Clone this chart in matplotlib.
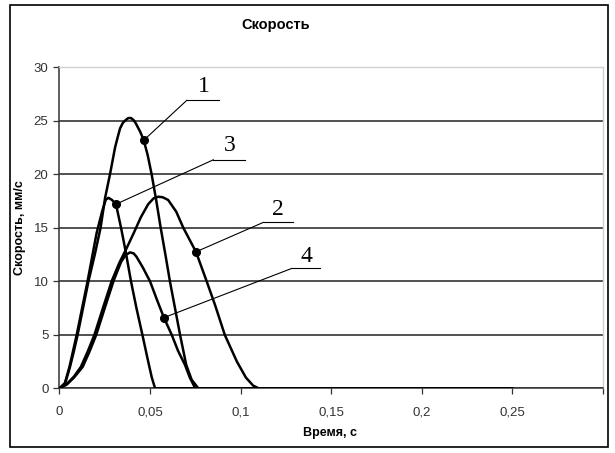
import matplotlib
matplotlib.use("Agg")
import matplotlib.pyplot as plt
from matplotlib.patches import Rectangle
from matplotlib.ticker import FuncFormatter

# Curve data (time, s ; velocity, mm/s)
t1 = [0, 0.003, 0.0058, 0.008, 0.010, 0.013, 0.016, 0.0195, 0.0227, 0.0252, 0.0279, 0.0307,
      0.0322, 0.0335, 0.035, 0.0365, 0.038, 0.0395, 0.041, 0.042, 0.0445, 0.0465, 0.0487,
      0.0509, 0.0535, 0.0559, 0.0585, 0.061, 0.0638, 0.0666, 0.070, 0.073, 0.0767, 0.25]
v1 = [0, 0.4, 2, 3.5, 5, 7.5, 10, 12.5, 15, 17.8, 20, 22.5,
      23.5, 24.3, 24.8, 25.05, 25.25, 25.25, 25.05, 24.8, 24.0, 23.2, 21.8,
      20, 17.5, 15, 12.5, 10, 7.5, 5, 2.2, 0.8, 0, 0]

t2 = [0, 0.004, 0.008, 0.0118, 0.0155, 0.0193, 0.024, 0.0288, 0.033, 0.0371, 0.041, 0.045,
      0.049, 0.052, 0.0546, 0.057, 0.060, 0.0645, 0.0684, 0.0754, 0.0813, 0.0859, 0.0913,
      0.098, 0.103, 0.107, 0.110, 0.25]
v2 = [0, 0.4, 1.1, 2, 3.4, 5, 7.5, 10, 11.7, 13.1, 14.5, 16.0,
      17.2, 17.75, 17.9, 17.85, 17.6, 16.5, 15, 12.75, 10, 7.8, 5,
      2.5, 1.0, 0.25, 0, 0]

t3 = [0, 0.003, 0.0055, 0.0095, 0.0125, 0.0155, 0.0205, 0.0235, 0.0255, 0.027, 0.029, 0.0312,
      0.034, 0.0362, 0.0395, 0.0425, 0.0458, 0.049, 0.051, 0.0528, 0.25]
v3 = [0, 0.5, 2, 5, 7.5, 10, 14.5, 16.5, 17.6, 17.8, 17.6, 17.2,
      15, 13.1, 10, 7.5, 5, 2.5, 1.0, 0, 0]

t4 = [0, 0.004, 0.008, 0.0128, 0.0165, 0.0203, 0.025, 0.0298, 0.034, 0.0365, 0.039, 0.041,
      0.0425, 0.046, 0.050, 0.054, 0.0577, 0.062, 0.0655, 0.0693, 0.072, 0.075, 0.25]
v4 = [0, 0.35, 1.0, 2, 3.4, 5, 7.5, 10, 11.8, 12.45, 12.7, 12.6,
      12.3, 11.3, 10, 8.2, 6.6, 5, 3.5, 2.2, 1.0, 0, 0]

series = [(t1, v1), (t2, v2), (t3, v3), (t4, v4)]

# callouts: label, marker point on curve, text position, underline (x0, x1, y)
labels = ["1", "2", "3", "4"]
mark_t = [0.0467, 0.0754, 0.0312, 0.0577]
mark_v = [23.2, 12.75, 17.2, 6.6]
text_t = [0.0795, 0.1209, 0.0942, 0.1366]
text_v = [28.2, 16.7, 22.7, 12.3]
under_t0 = [0.0703, 0.1126, 0.0850, 0.1283]
under_t1 = [0.0883, 0.1288, 0.1025, 0.1439]
under_v = [26.9, 15.5, 21.35, 11.2]

x_ticks = [0, 0.05, 0.1, 0.15, 0.2, 0.25, 0.3]
y_ticks = [0, 5, 10, 15, 20, 25, 30]

plt.rcParams['font.family'] = ['Liberation Sans', 'DejaVu Sans']

fig = plt.figure(figsize=(6.15, 4.53), dpi=100)
ax = fig.add_axes([59.5 / 615, 1 - 388.3 / 453, 543 / 615, (388.3 - 67.2) / 453])

# outer frame
fig.patches.append(Rectangle((10 / 615, 1 - 447 / 453), 598 / 615, 442 / 453,
                             transform=fig.transFigure, fill=False, edgecolor="black",
                             linewidth=1.2))

for t, v in series:
    ax.plot(t, v, color="black", linewidth=1.8, solid_joinstyle="round", zorder=3)

for i in range(len(labels)):
    ax.plot([mark_t[i], under_t0[i]], [mark_v[i], under_v[i]], color="black", linewidth=0.8, zorder=4)
    ax.plot([under_t0[i], under_t1[i]], [under_v[i], under_v[i]], color="black", linewidth=0.8, zorder=4)
    ax.plot(mark_t[i], mark_v[i], "o", color="black", markersize=5.5, zorder=5)
    ax.text(text_t[i], text_v[i], labels[i], ha="center", va="center", fontsize=17,
            family="Liberation Serif", zorder=5)

ax.set_xlim(0, 0.3)
ax.set_ylim(0, 30)
ax.set_xticks(x_ticks)
ax.set_yticks(y_ticks)
ax.xaxis.set_major_formatter(FuncFormatter(
    lambda x, p: "" if x > 0.26 else ("%g" % round(x, 2)).replace(".", ",")))
ax.tick_params(axis="both", direction="out", length=4, width=0.9, colors="#333333",
               labelsize=9.5, labelcolor="#333333")
ax.tick_params(axis="x", pad=9)
ax.tick_params(axis="y", pad=4)

ax.yaxis.grid(True, color="#222222", linewidth=1.1)
ax.set_axisbelow(True)
for s in ["left", "bottom"]:
    ax.spines[s].set_color("#333333")
    ax.spines[s].set_linewidth(1.1)
for s in ["top", "right"]:
    ax.spines[s].set_color("#d0d0d0")
    ax.spines[s].set_linewidth(1.0)

fig.text(276 / 615, 1 - 25 / 453, "Скорость", ha="center", va="center",
         fontsize=10.5, fontweight="bold")
fig.text(330 / 615, 1 - 433 / 453, "Время, с", ha="center", va="center",
         fontsize=9, fontweight="bold")
fig.text(20 / 615, 1 - 228 / 453, "Скорость, мм/с", ha="center", va="center",
         fontsize=9, fontweight="bold", rotation=90)

fig.savefig("out.png", dpi=100)
